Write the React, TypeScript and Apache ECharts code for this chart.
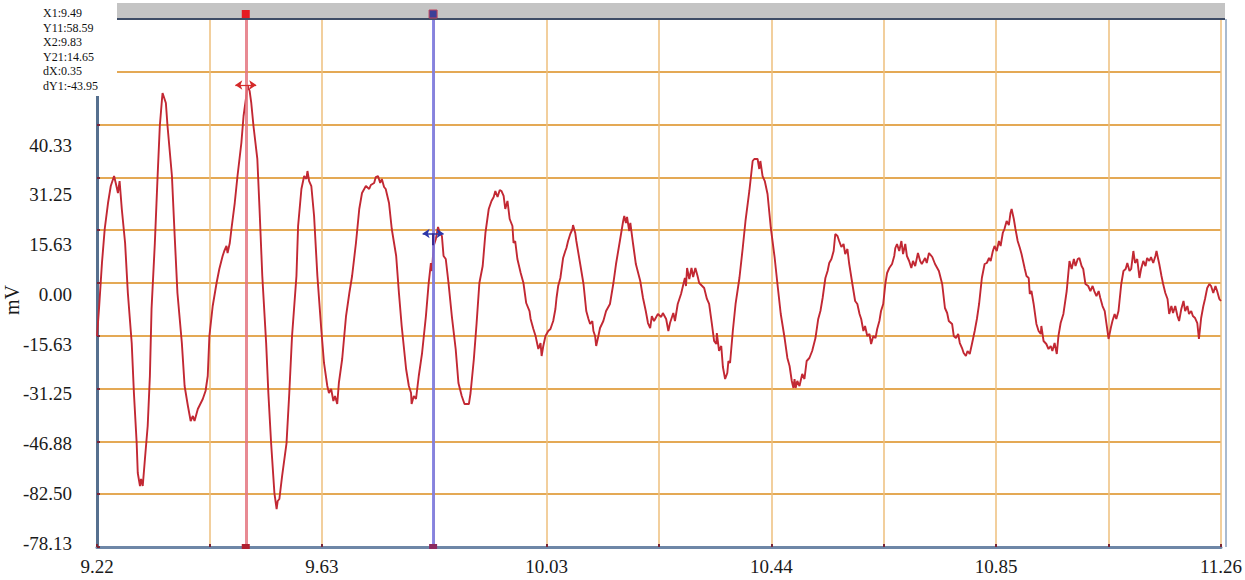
import React, { useEffect, useRef } from "react";
import * as echarts from "echarts";

const xTickLabels = ["9.22", "9.63", "10.03", "10.44", "10.85", "11.26"];
const yTickLabels = ["40.33", "31.25", "15.63", "0.00", "-15.63", "-31.25", "-46.88", "-82.50", "-78.13"];
const cursorInfo = ["X1:9.49", "Y11:58.59", "X2:9.83", "Y21:14.65", "dX:0.35", "dY1:-43.95"];
const cursorX = [9.49, 9.83];
const cursorY = [58.59, 14.65];
const axisUnit = "mV";

const timeSec = [
  9.220, 9.224, 9.229, 9.234, 9.240, 9.245, 9.251, 9.254, 9.258, 9.261,
  9.265, 9.271, 9.276, 9.283, 9.287, 9.292, 9.294, 9.298, 9.300, 9.303,
  9.307, 9.312, 9.316, 9.319, 9.325, 9.330, 9.334, 9.338, 9.339, 9.345,
  9.348, 9.356, 9.361, 9.366, 9.374, 9.379, 9.385, 9.390, 9.394, 9.397,
  9.403, 9.412, 9.417, 9.421, 9.424, 9.430, 9.437, 9.442, 9.448, 9.451,
  9.455, 9.457, 9.461, 9.464, 9.470, 9.475, 9.482, 9.486, 9.491, 9.493,
  9.497, 9.500, 9.504, 9.511, 9.515, 9.520, 9.527, 9.531, 9.536, 9.542,
  9.546, 9.548, 9.551, 9.556, 9.564, 9.569, 9.574, 9.582, 9.585, 9.591,
  9.596, 9.600, 9.602, 9.605, 9.609, 9.614, 9.620, 9.627, 9.632, 9.638,
  9.641, 9.645, 9.649, 9.652, 9.656, 9.659, 9.665, 9.672, 9.678, 9.683,
  9.690, 9.696, 9.701, 9.708, 9.714, 9.717, 9.723, 9.726, 9.730, 9.734,
  9.737, 9.741, 9.744, 9.750, 9.755, 9.763, 9.768, 9.773, 9.781, 9.786,
  9.790, 9.791, 9.795, 9.799, 9.804, 9.810, 9.817, 9.822, 9.826, 9.828,
  9.831, 9.835, 9.839, 9.842, 9.846, 9.849, 9.853, 9.858, 9.864, 9.871,
  9.876, 9.882, 9.887, 9.895, 9.898, 9.904, 9.909, 9.914, 9.920, 9.925,
  9.931, 9.936, 9.940, 9.943, 9.947, 9.951, 9.954, 9.958, 9.961, 9.965,
  9.969, 9.974, 9.976, 9.979, 9.983, 9.989, 9.994, 9.999, 10.005, 10.007,
  10.012, 10.016, 10.021, 10.025, 10.027, 10.030, 10.034, 10.039, 10.043, 10.048,
  10.052, 10.054, 10.057, 10.061, 10.066, 10.070, 10.072, 10.075, 10.079, 10.083,
  10.084, 10.088, 10.090, 10.097, 10.103, 10.108, 10.112, 10.115, 10.119, 10.121,
  10.124, 10.126, 10.130, 10.133, 10.139, 10.144, 10.151, 10.157, 10.162, 10.169,
  10.175, 10.177, 10.180, 10.182, 10.186, 10.188, 10.193, 10.198, 10.206, 10.211,
  10.216, 10.220, 10.224, 10.227, 10.231, 10.238, 10.244, 10.247, 10.253, 10.257,
  10.260, 10.266, 10.269, 10.274, 10.280, 10.287, 10.289, 10.291, 10.295, 10.299,
  10.302, 10.306, 10.310, 10.313, 10.322, 10.327, 10.331, 10.336, 10.340, 10.344,
  10.345, 10.349, 10.353, 10.356, 10.360, 10.364, 10.366, 10.369, 10.374, 10.379,
  10.386, 10.392, 10.397, 10.404, 10.410, 10.413, 10.419, 10.422, 10.424, 10.428,
  10.432, 10.437, 10.443, 10.450, 10.455, 10.461, 10.468, 10.473, 10.477, 10.481,
  10.484, 10.486, 10.488, 10.491, 10.495, 10.500, 10.504, 10.508, 10.513, 10.518,
  10.524, 10.529, 10.533, 10.537, 10.542, 10.546, 10.549, 10.553, 10.557, 10.560,
  10.564, 10.567, 10.571, 10.575, 10.578, 10.582, 10.585, 10.591, 10.596, 10.600,
  10.604, 10.607, 10.611, 10.614, 10.618, 10.622, 10.625, 10.629, 10.633, 10.636,
  10.640, 10.643, 10.647, 10.651, 10.654, 10.658, 10.663, 10.667, 10.669, 10.672,
  10.676, 10.680, 10.683, 10.687, 10.690, 10.694, 10.698, 10.701, 10.705, 10.710,
  10.714, 10.717, 10.723, 10.726, 10.730, 10.736, 10.741, 10.748, 10.754, 10.759,
  10.763, 10.766, 10.772, 10.775, 10.779, 10.783, 10.786, 10.790, 10.793, 10.797,
  10.800, 10.804, 10.808, 10.813, 10.817, 10.821, 10.826, 10.831, 10.835, 10.839,
  10.842, 10.846, 10.849, 10.853, 10.857, 10.860, 10.864, 10.867, 10.871, 10.875,
  10.878, 10.880, 10.884, 10.887, 10.891, 10.895, 10.898, 10.904, 10.907, 10.911,
  10.913, 10.916, 10.920, 10.925, 10.929, 10.933, 10.934, 10.938, 10.943, 10.947,
  10.951, 10.954, 10.958, 10.962, 10.965, 10.969, 10.974, 10.980, 10.983, 10.985,
  10.989, 10.993, 10.996, 11.000, 11.003, 11.007, 11.010, 11.014, 11.019, 11.023,
  11.027, 11.030, 11.034, 11.038, 11.041, 11.045, 11.049, 11.052, 11.054, 11.056,
  11.060, 11.063, 11.067, 11.070, 11.074, 11.079, 11.083, 11.087, 11.090, 11.094,
  11.097, 11.101, 11.104, 11.108, 11.112, 11.115, 11.119, 11.123, 11.126, 11.130,
  11.133, 11.137, 11.141, 11.143, 11.146, 11.148, 11.152, 11.155, 11.159, 11.163,
  11.166, 11.170, 11.173, 11.177, 11.181, 11.184, 11.188, 11.192, 11.195, 11.199,
  11.202, 11.206, 11.209, 11.213, 11.217, 11.220, 11.224, 11.228, 11.231, 11.235,
  11.239, 11.242, 11.246, 11.250, 11.253, 11.257, 11.260,
];

const voltMv = [
  -15.68, -6.81, 5.92, 15.98, 23.67, 28.70, 31.66, 29.59, 26.63, 30.18,
  21.90, 11.84, -2.96, -17.76, -32.55, -47.35, -56.23, -60.07, -58.00, -60.07,
  -52.08, -42.32, -27.52, -7.69, 11.84, 31.66, 46.46, 54.45, 56.23, 53.27,
  46.46, 31.66, 13.91, -2.96, -17.76, -30.48, -36.40, -40.84, -39.36, -40.84,
  -37.29, -34.33, -31.96, -27.52, -15.68, -6.81, 0, 4.14, 7.99, 9.47,
  10.95, 8.88, 11.84, 15.98, 23.67, 31.66, 41.43, 49.42, 55.34, 58.59,
  56.82, 53.27, 46.46, 36.70, 21.90, 2.07, -17.76, -32.55, -47.35, -62.15,
  -66.88, -64.51, -63.92, -57.11, -47.35, -32.55, -15.68, 2.07, 16.87, 27.82,
  31.66, 30.78, 33.14, 30.18, 28.70, 19.83, 2.07, -13.61, -23.67, -30.48,
  -32.55, -31.37, -34.92, -33.44, -35.81, -29.59, -22.49, -9.77, -2.96, 2.07,
  11.84, 21.90, 26.63, 28.70, 27.82, 29.00, 29.59, 31.37, 31.66, 29.59,
  30.78, 28.41, 27.82, 23.67, 15.98, 7.99, -2.96, -12.72, -25.45, -30.48,
  -32.55, -35.81, -33.44, -34.33, -27.52, -20.72, -9.77, 0, 5.92, 3.55,
  10.95, 13.02, 16.57, 14.80, 13.91, 7.99, 7.10, 0, -9.77, -19.53,
  -29.59, -33.44, -35.81, -35.81, -32.55, -22.49, -11.84, 0, 5.03, 14.80,
  21.90, 24.27, 25.45, 27.23, 25.45, 27.52, 27.23, 25.75, 21.90, 24.27,
  18.94, 16.87, 11.84, 12.43, 7.10, 2.96, 0, -5.92, -8.29, -10.65,
  -13.61, -15.68, -19.53, -17.76, -21.60, -18.64, -15.68, -14.20, -13.61, -11.25,
  -7.69, -4.44, -0.89, 1.48, 7.40, 9.47, 10.36, 12.43, 14.50, 15.98,
  17.16, 14.80, 12.43, 5.62, -0.30, -8.29, -10.65, -12.13, -11.25, -14.20,
  -15.68, -18.64, -15.68, -13.32, -11.25, -8.29, -6.21, -0.30, 5.62, 12.43,
  18.35, 19.83, 17.76, 19.53, 15.39, 17.76, 11.54, 5.62, 0.59, -4.44,
  -8.29, -11.84, -13.32, -9.77, -11.25, -9.17, -10.06, -8.88, -10.65, -14.20,
  -11.84, -8.88, -11.25, -6.21, -3.26, 1.48, -0.89, 4.44, 1.18, 4.44,
  1.78, 4.44, 2.07, 0, -1.48, -4.73, -6.21, -12.13, -17.16, -18.05,
  -14.80, -20.12, -18.64, -24.86, -28.41, -26.63, -23.08, -23.67, -14.20, -6.21,
  1.48, 10.36, 18.35, 27.23, 36.10, 36.70, 36.70, 33.74, 36.10, 31.66,
  30.18, 26.34, 16.28, 7.40, -0.30, -9.17, -16.28, -22.19, -24.56, -29.00,
  -31.07, -28.41, -31.07, -29.00, -30.48, -26.93, -28.41, -23.08, -22.19, -20.12,
  -16.28, -10.65, -8.29, -4.44, 1.48, 3.55, 5.92, 7.10, 9.47, 14.50,
  13.91, 12.43, 10.65, 11.54, 8.58, 10.06, 5.92, -0.30, -5.33, -6.21,
  -9.17, -10.65, -14.20, -12.72, -15.68, -15.09, -18.05, -15.68, -16.28, -13.61,
  -11.25, -8.29, -6.21, 0, 2.96, 4.44, 5.62, 7.99, 10.36, 11.54,
  9.47, 12.43, 8.58, 11.54, 7.99, 6.51, 4.44, 6.51, 5.03, 8.88,
  6.51, 5.62, 7.40, 5.92, 8.88, 7.69, 5.62, 3.55, -0.30, -7.40,
  -8.88, -11.25, -12.13, -15.68, -16.28, -15.09, -17.76, -19.24, -20.72, -21.60,
  -20.12, -21.01, -18.05, -14.20, -10.65, -6.21, 1.48, 5.62, 5.92, 7.40,
  6.51, 9.47, 10.95, 9.47, 12.43, 10.95, 14.80, 15.98, 18.35, 17.16,
  20.72, 21.90, 18.94, 15.98, 12.43, 10.36, 8.58, 4.14, 2.07, 1.48,
  -3.26, -2.37, -6.21, -12.13, -14.20, -15.09, -12.72, -17.16, -18.05, -19.53,
  -18.64, -20.12, -17.76, -21.01, -15.68, -11.84, -9.17, -2.37, 2.96, 6.51,
  4.14, 7.10, 5.03, 7.10, 7.40, 5.03, 4.14, -0.30, -0.89, -2.37,
  -0.89, -2.37, -3.85, -2.37, -4.44, -6.81, -8.29, -11.84, -14.20, -16.57,
  -13.32, -11.25, -9.17, -10.65, -8.29, -0.30, 3.55, 4.14, 5.92, 3.55,
  4.14, 9.47, 5.92, 7.10, 1.48, 4.14, 6.51, 5.03, 7.40, 6.51,
  7.69, 5.92, 7.99, 9.47, 7.10, 5.62, 2.07, -0.30, -2.96, -4.73,
  -9.17, -6.81, -8.88, -6.81, -9.77, -11.25, -7.69, -5.33, -8.29, -6.81,
  -9.17, -8.29, -9.77, -10.36, -11.84, -16.57, -10.36, -6.81, -4.73, -1.48,
  -0.30, -0.89, -2.96, -0.89, -2.37, -4.73, -5.33,
];

const X_MIN = 9.22;
const X_MAX = 11.26;
const Y_MIN = -78.125;
const Y_MAX = 78.125;
const Y_STEP = 15.625;

const W = 1245;
const H = 580;
const G_LEFT = 97;
const G_TOP = 19;
const G_RIGHT = 20;
const G_BOTTOM = 33;
const SERIF = '"Liberation Serif", "Times New Roman", serif';

export default function App() {
  const ref = useRef<HTMLDivElement>(null);

  useEffect(() => {
    document.body.style.margin = "0";
    if (!ref.current) return;
    const chart = echarts.init(ref.current, undefined, { renderer: "svg" });
    const data = timeSec.map((t, i) => [t, voltMv[i]]);
    const arrowHalf = 0.019;

    chart.setOption({
      animation: false,
      backgroundColor: "#ffffff",
      grid: [
        { left: G_LEFT, top: G_TOP, right: G_RIGHT, bottom: G_BOTTOM },
        { left: G_LEFT, top: 145, right: G_RIGHT, bottom: 37 },
      ],
      xAxis: [
        { type: "value", gridIndex: 0, min: X_MIN, max: X_MAX, show: false },
        {
          type: "value",
          gridIndex: 0,
          position: "bottom",
          min: 0,
          max: 10,
          interval: 1,
          axisLine: { show: true, lineStyle: { color: "#6e87a7", width: 3 } },
          axisTick: { show: true, inside: true, length: 3, lineStyle: { color: "#7a2636", width: 2 } },
          axisLabel: {
            margin: 10,
            fontSize: 19,
            fontFamily: SERIF,
            color: "#1a1a1a",
            formatter: (v: number) => {
              const i = Math.round(v);
              return i % 2 === 0 ? xTickLabels[i / 2] : "";
            },
          },
          splitLine: { show: true, lineStyle: { color: "#eebf7c", width: 1.5 } },
        },
        { type: "value", gridIndex: 1, min: 0, max: 1, show: false },
      ],
      yAxis: [
        {
          type: "value",
          gridIndex: 0,
          min: Y_MIN,
          max: Y_MAX,
          interval: Y_STEP,
          axisLine: { show: true, lineStyle: { color: "#56708f", width: 3 } },
          axisTick: { show: true, inside: true, length: 3, lineStyle: { color: "#7a2636", width: 2 } },
          axisLabel: { show: false },
          splitLine: { show: true, lineStyle: { color: "#e4a955", width: 2 } },
        },
        {
          type: "value",
          gridIndex: 1,
          min: 0,
          max: yTickLabels.length - 1,
          interval: 1,
          axisLine: { show: false },
          axisTick: { show: false },
          splitLine: { show: false },
          axisLabel: {
            margin: 25,
            fontSize: 19,
            fontFamily: SERIF,
            color: "#1a1a1a",
            formatter: (v: number) => yTickLabels[yTickLabels.length - 1 - Math.round(v)],
          },
        },
      ],
      series: [
        {
          type: "line",
          xAxisIndex: 0,
          yAxisIndex: 0,
          data,
          showSymbol: false,
          symbol: "none",
          lineStyle: { color: "#c22833", width: 1.9 },
          markLine: {
            silent: true,
            symbol: "none",
            label: { show: false },
            lineStyle: { type: "solid" },
            data: [
              { xAxis: cursorX[0], lineStyle: { color: "rgba(228,118,128,0.85)", width: 3, type: "solid" } },
              { xAxis: cursorX[1], lineStyle: { color: "rgba(118,118,228,0.85)", width: 3, type: "solid" } },
              [
                { coord: [cursorX[0] - arrowHalf, cursorY[0]], symbol: "arrow", symbolSize: 7, lineStyle: { color: "#d42a2a", width: 1.2, type: "solid" } },
                { coord: [cursorX[0] + arrowHalf, cursorY[0]], symbol: "arrow", symbolSize: 7 },
              ],
              [
                { coord: [cursorX[1] - arrowHalf, cursorY[1]], symbol: "arrow", symbolSize: 7, lineStyle: { color: "#2b36a8", width: 1.5, type: "solid" } },
                { coord: [cursorX[1] + arrowHalf, cursorY[1]], symbol: "arrow", symbolSize: 7 },
              ],
              [
                { coord: [cursorX[1], cursorY[1]], symbol: "none", lineStyle: { color: "#3a2a90", width: 2, type: "solid" } },
                { coord: [cursorX[1], cursorY[1] - 3.5], symbol: "none" },
              ],
            ],
          },
        },
      ],
    });

    const gridRight = W - G_RIGHT;
    const gridBottom = H - G_BOTTOM;
    const cx = cursorX.map((v) => chart.convertToPixel({ xAxisIndex: 0 }, v) as number);

    const graphics: any[] = [
      { type: "rect", z: 50, shape: { x: 0, y: 0, width: 117, height: 96 }, style: { fill: "#ffffff" } },
      { type: "rect", z: 50, shape: { x: 117, y: 3, width: gridRight - 117, height: 15 }, style: { fill: "#c4c4c4" } },
      { type: "line", z: 51, shape: { x1: 117, y1: G_TOP, x2: gridRight, y2: G_TOP }, style: { stroke: "#3e4c66", lineWidth: 2 } },
      { type: "line", z: 51, shape: { x1: gridRight + 1, y1: G_TOP, x2: gridRight + 1, y2: gridBottom }, style: { stroke: "#a9bad0", lineWidth: 2 } },
      { type: "rect", z: 52, shape: { x: cx[0] - 4, y: 10, width: 8, height: 8 }, style: { fill: "#e61b23" } },
      { type: "rect", z: 52, shape: { x: cx[1] - 4, y: 10, width: 8, height: 8 }, style: { fill: "#3b3f98", stroke: "#c0405a", lineWidth: 1 } },
      { type: "rect", z: 52, shape: { x: cx[0] - 4, y: gridBottom - 3, width: 8, height: 5 }, style: { fill: "#b02030" } },
      { type: "rect", z: 52, shape: { x: cx[1] - 4, y: gridBottom - 3, width: 8, height: 5 }, style: { fill: "#8a2a60" } },
      {
        type: "text",
        z: 52,
        x: 12,
        y: 300,
        rotation: Math.PI / 2,
        style: { text: axisUnit, fontSize: 20, fontFamily: SERIF, fill: "#1a1a1a", align: "center", verticalAlign: "middle" },
      },
    ];
    cursorInfo.forEach((s, i) => {
      graphics.push({
        type: "text",
        z: 52,
        x: 43,
        y: 13 + i * 14.5,
        style: { text: s, fontSize: 12, fontFamily: SERIF, fill: "#111111", align: "left", verticalAlign: "middle" },
      });
    });
    chart.setOption({ graphic: graphics });

    return () => chart.dispose();
  }, []);

  return <div ref={ref} style={{ width: W, height: H }} />;
}
